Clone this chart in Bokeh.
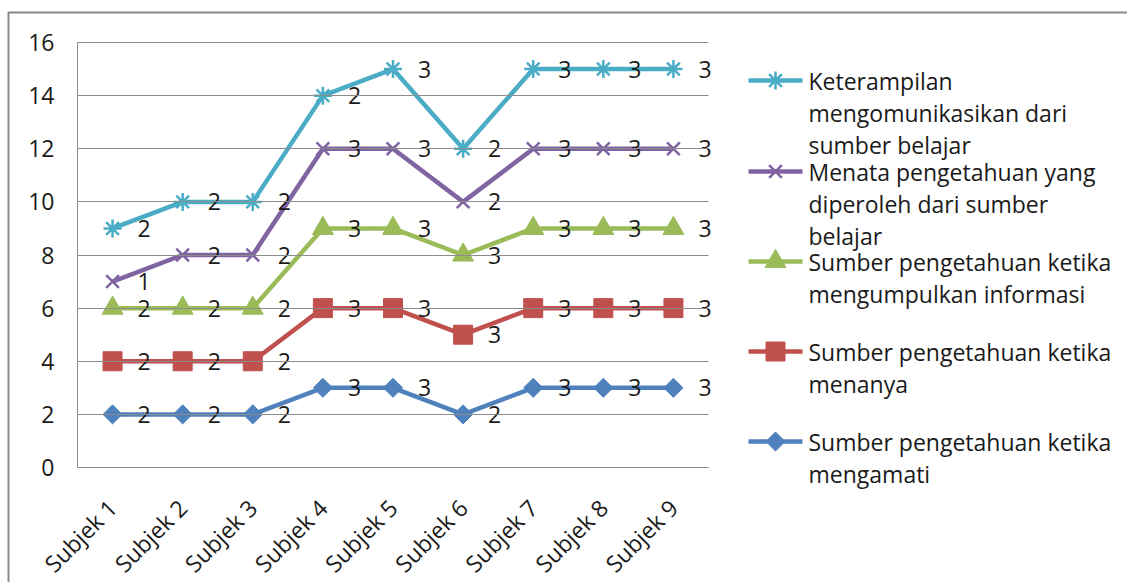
import numpy as np
from bokeh.plotting import figure
from bokeh.models import (ColumnDataSource, Range1d, LinearAxis, FixedTicker,
                          Grid)
from bokeh.core.properties import value
from bokeh.embed import file_html
from bokeh.resources import INLINE

# ---- data -------------------------------------------------------------
subjects = ["Subjek 1", "Subjek 2", "Subjek 3", "Subjek 4", "Subjek 5",
            "Subjek 6", "Subjek 7", "Subjek 8", "Subjek 9"]

mengamati = [2, 2, 2, 3, 3, 2, 3, 3, 3]
menanya = [2, 2, 2, 3, 3, 3, 3, 3, 3]
mengumpulkan = [2, 2, 2, 3, 3, 3, 3, 3, 3]
menata = [1, 2, 2, 3, 3, 2, 3, 3, 3]
komunikasi = [2, 2, 2, 2, 3, 2, 3, 3, 3]

legend_lines = [
    ["Sumber pengetahuan ketika", "mengamati"],
    ["Sumber pengetahuan ketika", "menanya"],
    ["Sumber pengetahuan ketika", "mengumpulkan informasi"],
    ["Menata pengetahuan yang", "diperoleh dari sumber", "belajar"],
    ["Keterampilan", "mengomunikasikan dari", "sumber belajar"],
]
y_ticks = [0, 2, 4, 6, 8, 10, 12, 14, 16]

# ---- styling ----------------------------------------------------------
W, H = 1127, 582
PLOT_L, PLOT_R, PLOT_T, PLOT_B = 77, 708, 42, 467   # plot area in px
Y_MAX = 16

FONT_NAME = "Open Sans"
FONT = value(FONT_NAME)
FSIZE = "23px"
TEXT = "#1a1a1a"
GRID = "#8c8c8c"
BORDER = "#8a8a8a"
colors = ["#4F81BD", "#C0504D", "#9BBB59", "#8064A2", "#4BACC6"]
markers = [
    dict(marker="square", size=13.5, angle=np.pi / 4),
    dict(marker="square", size=19),
    dict(marker="triangle", size=21),
    dict(marker="x", size=18, line_width=2.5),
    dict(marker="asterisk", size=18, line_width=2.5),
]

values = [mengamati, menanya, mengumpulkan, menata, komunikasi]
stacked = np.cumsum(np.array(values), axis=0)
xpos = np.arange(len(subjects))

# data ranges chosen so the plot area sits inside the full canvas
n = len(subjects)
px_per_x = (PLOT_R - PLOT_L) / n
x_lo = -0.5 - PLOT_L / px_per_x
x_hi = -0.5 + (W - PLOT_L) / px_per_x
px_per_y = (PLOT_B - PLOT_T) / Y_MAX
y_lo = -(H - PLOT_B) / px_per_y
y_hi = PLOT_B / px_per_y

p = figure(width=W, height=H, x_range=Range1d(x_lo, x_hi),
           y_range=Range1d(y_lo, y_hi), output_backend="svg",
           toolbar_location=None, x_axis_location=None, y_axis_location=None,
           min_border=0)
p.extra_x_ranges = {"px": Range1d(0, W)}
p.extra_y_ranges = {"px": Range1d(H, 0)}
p.outline_line_color = None
p.background_fill_color = "white"
p.border_fill_color = "white"
for r in p.center:
    if isinstance(r, Grid):
        r.visible = False

# value axis; its inward ticks serve as the horizontal gridlines
yax = LinearAxis(fixed_location=-0.5, bounds=(0, Y_MAX),
                 ticker=FixedTicker(ticks=y_ticks))
yax.major_tick_in = PLOT_R - PLOT_L
yax.major_tick_out = 0
yax.major_tick_line_color = GRID
yax.major_tick_line_width = 1
yax.major_label_standoff = 23
p.add_layout(yax, "left")

xax = LinearAxis(fixed_location=0, bounds=(-0.5, n - 0.5),
                 ticker=FixedTicker(ticks=list(range(n))),
                 major_label_overrides={i: s for i, s in enumerate(subjects)})
xax.major_tick_line_color = None
xax.major_label_orientation = np.pi / 4
xax.major_label_standoff = 30
p.add_layout(xax, "below")

for ax in (xax, yax):
    ax.axis_line_color = GRID
    ax.axis_line_width = 1
    ax.minor_tick_line_color = None
    ax.major_label_text_font = FONT_NAME
    ax.major_label_text_font_size = FSIZE
    ax.major_label_text_color = TEXT

# stacked lines with markers
for i in range(len(values)):
    src = ColumnDataSource(dict(x=xpos, y=stacked[i]))
    p.line("x", "y", source=src, line_color=colors[i], line_width=4.5)
    mk = dict(markers[i])
    if mk["marker"] in ("x", "asterisk"):
        p.scatter("x", "y", source=src, line_color=colors[i], **mk)
    else:
        p.scatter("x", "y", source=src, fill_color=colors[i],
                  line_color=colors[i], **mk)

# value labels to the right of each point
for i in range(len(values)):
    src = ColumnDataSource(dict(x=xpos, y=stacked[i],
                                lab=[str(v) for v in values[i]]))
    p.text("x", "y", text="lab", source=src, x_offset=25,
           text_align="left", text_baseline="middle",
           text_font=FONT, text_font_size=FSIZE, text_color=TEXT)

# chart-area border (top and left edges)
p.line([8, 8, W], [H, 12, 12], x_range_name="px", y_range_name="px",
       line_color=BORDER, line_width=2)

# legend
first_line_y = [441, 351, 261, 171, 80]
for i in range(len(values)):
    ym = first_line_y[i]
    lg_kw = dict(x_range_name="px", y_range_name="px")
    p.line([748, 802], [ym, ym], line_color=colors[i], line_width=4.5, **lg_kw)
    mk = dict(markers[i])
    if mk["marker"] in ("x", "asterisk"):
        p.scatter([775], [ym], line_color=colors[i], **mk, **lg_kw)
    else:
        p.scatter([775], [ym], fill_color=colors[i], line_color=colors[i],
                  **mk, **lg_kw)
    lines = legend_lines[i]
    p.text([808] * len(lines), [ym + 32 * k for k in range(len(lines))],
           text=lines, text_align="left", text_baseline="middle",
           text_font=FONT, text_font_size=FSIZE, text_color=TEXT, **lg_kw)

open("out.html", "w").write(file_html(p, INLINE))
